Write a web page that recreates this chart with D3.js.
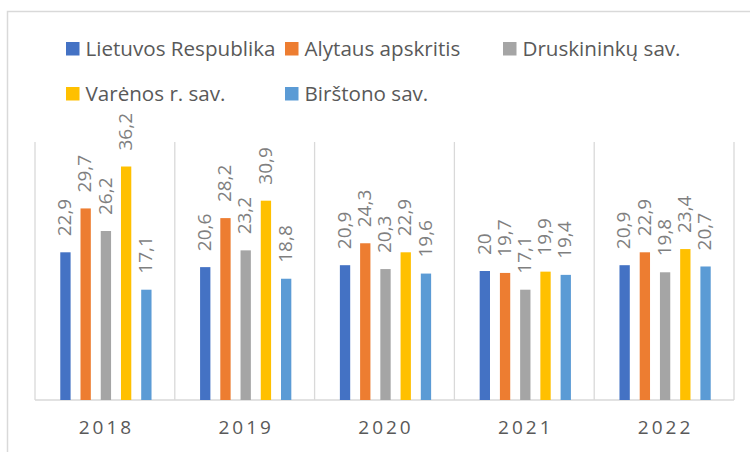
<!DOCTYPE html>
<html>
<head>
<meta charset="utf-8">
<script src="https://cdn.jsdelivr.net/npm/d3@7"></script>
<style>
  body { margin: 0; background: #fff; }
  svg { display: block; font-family: 'Open Sans', sans-serif; }
</style>
</head>
<body>
<svg class="chart" width="750" height="452"></svg>
<script>
const years = ['2018', '2019', '2020', '2021', '2022'];
const seriesNames = ['Lietuvos Respublika', 'Alytaus apskritis', 'Druskininkų sav.', 'Varėnos r. sav.', 'Birštono sav.'];
const seriesColors = ['#4472C4', '#ED7D31', '#A5A5A5', '#FFC000', '#5B9BD5'];

const lietuva = [22.9, 20.6, 20.9, 20, 20.9];
const alytus = [29.7, 28.2, 24.3, 19.7, 22.9];
const druskininkai = [26.2, 23.2, 20.3, 17.1, 19.8];
const varena = [36.2, 30.9, 22.9, 19.9, 23.4];
const birstonas = [17.1, 18.8, 19.6, 19.4, 20.7];

const yMax = 40;

const seriesValues = [lietuva, alytus, druskininkai, varena, birstonas];

// one row per year, one entry per series
const data = years.map((year, i) => ({
    year: year,
    values: seriesNames.map((name, s) => ({ name: name, value: seriesValues[s][i], idx: s }))
}));

const svg = d3.select('.chart');

const plot = { left: 35, right: 734, top: 142, bottom: 400 };

// chart area border (runs off the right and bottom edges like the screenshot)
svg.append('rect')
    .attr('x', 7.5)
    .attr('y', 11.5)
    .attr('width', 800)
    .attr('height', 500)
    .attr('fill', 'none')
    .attr('stroke', '#d9d9d9')
    .attr('stroke-width', 1.5);

const xScale = d3.scaleBand()
    .domain(years)
    .range([plot.left, plot.right])
    .padding(0);

const xInner = d3.scaleBand()
    .domain(seriesNames)
    .range([1, xScale.bandwidth() + 1])
    .paddingInner(0.49)
    .paddingOuter(1.2);

const yScale = d3.scaleLinear()
    .domain([0, yMax])
    .range([plot.bottom, plot.top]);

const color = d3.scaleOrdinal()
    .domain(seriesNames)
    .range(seriesColors);

// vertical category dividers
svg.append('g')
    .selectAll('line')
    .data(years.map(y => xScale(y)).concat([plot.right]))
    .join('line')
    .attr('x1', d => d)
    .attr('x2', d => d)
    .attr('y1', yScale(yMax))
    .attr('y2', yScale(0))
    .attr('stroke', '#d9d9d9')
    .attr('stroke-width', 1.3);

// bottom axis
const xAxis = svg.append('g')
    .attr('transform', `translate(0, ${yScale(0)})`)
    .call(d3.axisBottom(xScale).tickSize(0).tickPadding(21));
xAxis.select('.domain')
    .attr('d', `M${plot.left},0H${plot.right}`)
    .attr('stroke', '#d9d9d9')
    .attr('stroke-width', 1.5);
xAxis.selectAll('text')
    .attr('font-family', "'Open Sans', sans-serif")
    .attr('font-size', 19)
    .attr('letter-spacing', 3)
    .attr('fill', '#595959')
    .attr('dx', 1.5);

const groups = svg.append('g')
    .selectAll('g')
    .data(data)
    .join('g')
    .attr('transform', d => `translate(${xScale(d.year)}, 0)`);

groups.selectAll('rect')
    .data(d => d.values)
    .join('rect')
    .attr('x', d => xInner(d.name))
    .attr('y', d => yScale(d.value))
    .attr('width', xInner.bandwidth())
    .attr('height', d => yScale(0) - yScale(d.value))
    .attr('fill', d => color(d.name));

// rotated value labels above each bar
groups.selectAll('text')
    .data(d => d.values)
    .join('text')
    .attr('transform', d => `translate(${xInner(d.name) + xInner.bandwidth() / 2}, ${yScale(d.value) - 16}) rotate(-90)`)
    .attr('dy', '0.3em')
    .attr('font-size', 19)
    .attr('fill', '#7f7f7f')
    .text(d => String(d.value).replace('.', ','));

// legend, two rows
const legendCols = [66, 285, 503];
const legendRows = [49, 94];

const legend = svg.append('g')
    .selectAll('g')
    .data(seriesNames)
    .join('g')
    .attr('transform', (d, i) => `translate(${legendCols[i % 3]}, ${legendRows[Math.floor(i / 3)]})`);

legend.append('rect')
    .attr('x', 0)
    .attr('y', -7)
    .attr('width', 13.5)
    .attr('height', 13.5)
    .attr('fill', d => color(d));

legend.append('text')
    .attr('x', 19.5)
    .attr('dy', '0.35em')
    .attr('font-size', 20.6)
    .attr('fill', '#595959')
    .text(d => d);
</script>
</body>
</html>
